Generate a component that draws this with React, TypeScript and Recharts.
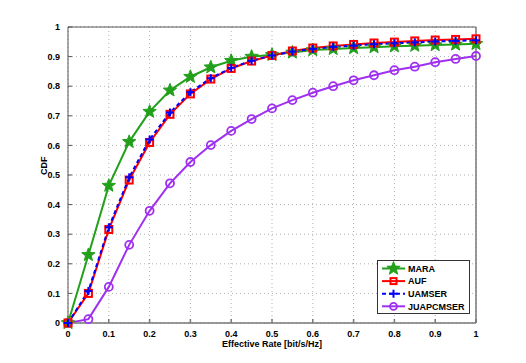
import React from 'react';
import { LineChart, Line, XAxis, YAxis, CartesianGrid, ReferenceLine } from 'recharts';

const rates = [0, 0.05, 0.1, 0.15, 0.2, 0.25, 0.3, 0.35, 0.4, 0.45, 0.5, 0.55, 0.6, 0.65, 0.7, 0.75, 0.8, 0.85, 0.9, 0.95, 1];
const mara = [0, 0.23, 0.464, 0.612, 0.714, 0.786, 0.832, 0.864, 0.886, 0.9, 0.906, 0.914, 0.922, 0.926, 0.929, 0.932, 0.935, 0.937, 0.939, 0.941, 0.943];
const auf = [0, 0.1, 0.316, 0.483, 0.61, 0.705, 0.774, 0.824, 0.86, 0.885, 0.904, 0.919, 0.929, 0.936, 0.941, 0.946, 0.949, 0.953, 0.956, 0.958, 0.96];
const uamser = [0, 0.108, 0.323, 0.492, 0.62, 0.711, 0.78, 0.827, 0.862, 0.886, 0.904, 0.917, 0.926, 0.933, 0.937, 0.942, 0.945, 0.948, 0.951, 0.953, 0.955];
const juap = [0, 0.013, 0.122, 0.264, 0.379, 0.472, 0.544, 0.601, 0.649, 0.689, 0.725, 0.753, 0.778, 0.8, 0.82, 0.837, 0.854, 0.866, 0.881, 0.892, 0.902];
const xTicks = [0, 0.1, 0.2, 0.3, 0.4, 0.5, 0.6, 0.7, 0.8, 0.9, 1];
const yTicks = [0, 0.1, 0.2, 0.3, 0.4, 0.5, 0.6, 0.7, 0.8, 0.9, 1];
const seriesNames = ['MARA', 'AUF', 'UAMSER', 'JUAPCMSER'];

const data = rates.map((r, i) => ({ x: r, MARA: mara[i], AUF: auf[i], UAMSER: uamser[i], JUAPCMSER: juap[i] }));

const GREEN = '#22a01c';
const RED = '#ff0000';
const BLUE = '#0000ff';
const PURPLE = '#a030f0';
const FONT = '"Liberation Sans", Arial, sans-serif';

const starPoints = (cx: number, cy: number, ro: number, ri: number) => {
  const pts: string[] = [];
  for (let k = 0; k < 10; k++) {
    const r = k % 2 === 0 ? ro : ri;
    const a = -Math.PI / 2 + (k * Math.PI) / 5;
    pts.push(`${cx + r * Math.cos(a)},${cy + r * Math.sin(a)}`);
  }
  return pts.join(' ');
};

const Star = (p: any) => p.cx == null ? null : (
  <polygon key={p.index} points={starPoints(p.cx, p.cy, 7, 3)} fill={GREEN} stroke={GREEN} strokeWidth={1} />
);
const Square = (p: any) => p.cx == null ? null : (
  <rect key={p.index} x={p.cx - 3.5} y={p.cy - 3.5} width={7} height={7} fill="none" stroke={RED} strokeWidth={2} />
);
const Plus = (p: any) => p.cx == null ? null : (
  <g key={p.index}>
    <line x1={p.cx - 4} x2={p.cx + 4} y1={p.cy} y2={p.cy} stroke={BLUE} strokeWidth={2} />
    <line x1={p.cx} x2={p.cx} y1={p.cy - 4} y2={p.cy + 4} stroke={BLUE} strokeWidth={2} />
  </g>
);
const Circ = (p: any) => p.cx == null ? null : (
  <circle key={p.index} cx={p.cx} cy={p.cy} r={4} fill="none" stroke={PURPLE} strokeWidth={1.8} />
);

const LegendBox = () => {
  const items = [
    { name: seriesNames[0], color: GREEN, dash: undefined, mk: (cx: number, cy: number) => <polygon points={starPoints(cx, cy, 7, 3)} fill={GREEN} stroke={GREEN} /> },
    { name: seriesNames[1], color: RED, dash: undefined, mk: (cx: number, cy: number) => <rect x={cx - 3} y={cy - 3} width={6} height={6} fill="none" stroke={RED} strokeWidth={2} /> },
    { name: seriesNames[2], color: BLUE, dash: '4 3', mk: (cx: number, cy: number) => <g><line x1={cx - 4} x2={cx + 4} y1={cy} y2={cy} stroke={BLUE} strokeWidth={2} /><line x1={cx} x2={cx} y1={cy - 4} y2={cy + 4} stroke={BLUE} strokeWidth={2} /></g> },
    { name: seriesNames[3], color: PURPLE, dash: undefined, mk: (cx: number, cy: number) => <circle cx={cx} cy={cy} r={3.5} fill="none" stroke={PURPLE} strokeWidth={1.8} /> },
  ];
  return (
    <svg width={93} height={54} style={{ display: 'block' }}>
      <rect x={0.5} y={0.5} width={92} height={53} fill="#fff" stroke="#333" strokeWidth={1} />
      {items.map((it, i) => {
        const cy = 8.5 + i * 12.6;
        return (
          <g key={it.name}>
            <line x1={5} x2={28} y1={cy} y2={cy} stroke={it.color} strokeWidth={2} strokeDasharray={it.dash} />
            {it.mk(16.5, cy)}
            <text x={31} y={cy + 3.2} fontSize={9} fontWeight="bold" fontFamily={FONT} fill="#000">{it.name}</text>
          </g>
        );
      })}
    </svg>
  );
};

const fmt = (v: number) => (v === 0 ? '0' : v === 1 ? '1' : v.toFixed(1));

export default function App() {
  return (
    <div style={{ position: 'absolute', left: 0, top: 0, width: 526, height: 363, background: '#fff' }}>
      <LineChart width={526} height={363} data={data} margin={{ top: 27, right: 50, bottom: 10, left: 8 }}>
        <CartesianGrid stroke="#b0b0b0" strokeDasharray="1 3" strokeWidth={1} />
        <XAxis
          dataKey="x"
          type="number"
          domain={[0, 1]}
          ticks={xTicks}
          tickFormatter={fmt}
          height={30}
          stroke="#777"
          strokeWidth={1.5}
          tickSize={-4}
          tick={{ fontSize: 9, fontWeight: 'bold', fill: '#000', fontFamily: FONT, dy: 10 }}
          label={{ value: 'Effective Rate [bit/s/Hz]', position: 'insideBottom', offset: 6, fontSize: 9, fontWeight: 'bold', fill: '#000', fontFamily: FONT }}
        />
        <YAxis
          type="number"
          domain={[0, 1]}
          ticks={yTicks}
          tickFormatter={fmt}
          width={60}
          stroke="#555"
          tickSize={-4}
          tick={{ fontSize: 9, fontWeight: 'bold', fill: '#000', fontFamily: FONT, dx: -10 }}
          label={{ value: 'CDF', angle: -90, position: 'insideLeft', offset: 36, fontSize: 9, fontWeight: 'bold', fill: '#000', fontFamily: FONT }}
        />
        <ReferenceLine y={1} stroke="#555" strokeWidth={1} />
        <ReferenceLine x={1} stroke="#777" strokeWidth={1.5} />
        <Line dataKey="JUAPCMSER" stroke={PURPLE} strokeWidth={2} dot={Circ} isAnimationActive={false} />
        <Line dataKey="MARA" stroke={GREEN} strokeWidth={2} dot={Star} isAnimationActive={false} />
        <Line dataKey="AUF" stroke={RED} strokeWidth={2} dot={Square} isAnimationActive={false} />
        <Line dataKey="UAMSER" stroke={BLUE} strokeWidth={2} strokeDasharray="4 3" dot={Plus} isAnimationActive={false} />
      </LineChart>
      <div style={{ position: 'absolute', left: 377, top: 260 }}>
        <LegendBox />
      </div>
    </div>
  );
}
